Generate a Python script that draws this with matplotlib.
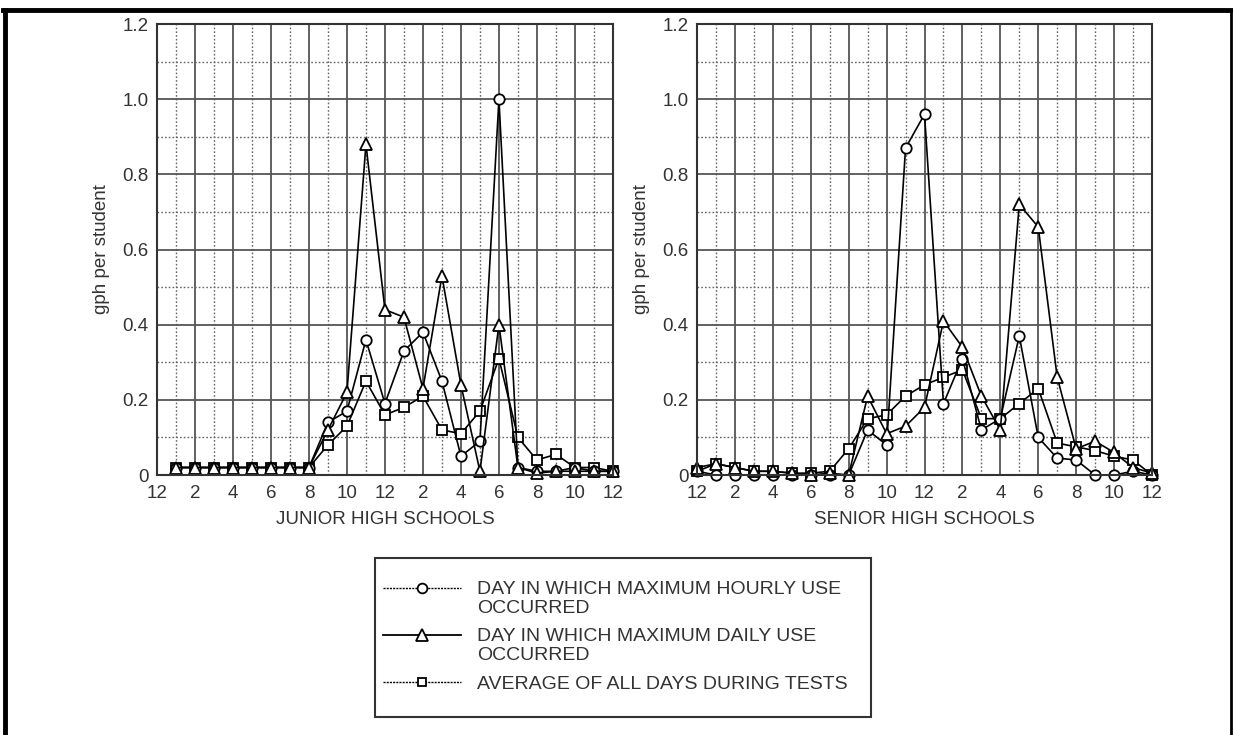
import matplotlib
matplotlib.use("Agg")
import matplotlib.pyplot as plt
from matplotlib.lines import Line2D
from matplotlib.legend_handler import HandlerLine2D

plt.rcParams['font.family'] = ['Liberation Sans', 'DejaVu Sans']

# hours of the day (0 = midnight, 24 = next midnight)
hours_jr = list(range(1, 25))
hours_sr = list(range(0, 25))
tick_labels = ["12", "2", "4", "6", "8", "10", "12", "2", "4", "6", "8", "10", "12"]

# junior high schools, gph per student
jr_max_hourly = [0.02, 0.02, 0.02, 0.02, 0.02, 0.02, 0.02, 0.02, 0.14, 0.17, 0.36, 0.19,
                 0.33, 0.38, 0.25, 0.05, 0.09, 1.00, 0.02, 0.01, 0.01, 0.02, 0.01, 0.01]
jr_max_daily = [0.02, 0.02, 0.02, 0.02, 0.02, 0.02, 0.02, 0.02, 0.12, 0.22, 0.88, 0.44,
                0.42, 0.23, 0.53, 0.24, 0.01, 0.40, 0.02, 0.005, 0.01, 0.01, 0.01, 0.01]
jr_average = [0.02, 0.02, 0.02, 0.02, 0.02, 0.02, 0.02, 0.02, 0.08, 0.13, 0.25, 0.16,
              0.18, 0.21, 0.12, 0.11, 0.17, 0.31, 0.10, 0.04, 0.055, 0.02, 0.02, 0.01]

# senior high schools, gph per student
sr_max_hourly = [0.01, 0.0, 0.0, 0.0, 0.0, 0.0, 0.0, 0.0, 0.0, 0.12, 0.08, 0.87, 0.96,
                 0.19, 0.31, 0.12, 0.15, 0.37, 0.10, 0.045, 0.04, 0.0, 0.0, 0.01, 0.0]
sr_max_daily = [0.02, 0.03, 0.02, 0.01, 0.01, 0.005, 0.0, 0.005, 0.0, 0.21, 0.11, 0.13, 0.18,
                0.41, 0.34, 0.21, 0.12, 0.72, 0.66, 0.26, 0.07, 0.09, 0.06, 0.02, 0.005]
sr_average = [0.01, 0.03, 0.02, 0.01, 0.01, 0.005, 0.005, 0.01, 0.07, 0.15, 0.16, 0.21, 0.24,
              0.26, 0.28, 0.15, 0.15, 0.19, 0.23, 0.085, 0.075, 0.065, 0.05, 0.04, 0.0]

labels = ["DAY IN WHICH MAXIMUM HOURLY USE\nOCCURRED",
          "DAY IN WHICH MAXIMUM DAILY USE\nOCCURRED",
          "AVERAGE OF ALL DAYS DURING TESTS"]

FS = 13.5

fig = plt.figure(figsize=(12.33, 7.35), dpi=100)
ax1 = fig.add_axes([0.1273, 0.3537, 0.3698, 0.6136])
ax2 = fig.add_axes([0.5653, 0.3537, 0.3690, 0.6136])

style = dict(color="black", lw=1.2, markerfacecolor="white", markeredgecolor="black",
             markeredgewidth=1.3, clip_on=False)


def draw_panel(ax, x, hourly, daily, avg, xlabel):
    ax.plot(x, avg, marker="s", markersize=6.5, **style)
    ax.plot(x, hourly, marker="o", markersize=7.5, **style)
    ax.plot(x, daily, marker="^", markersize=8, **style)
    ax.set_xlim(0, 24)
    ax.set_ylim(0, 1.2)
    ax.set_xticks(range(0, 25, 2))
    ax.set_xticklabels(tick_labels)
    ax.set_xticks(range(1, 25, 2), minor=True)
    ax.set_yticks([0, 0.2, 0.4, 0.6, 0.8, 1.0, 1.2])
    ax.set_yticklabels(["0", "0.2", "0.4", "0.6", "0.8", "1.0", "1.2"])
    ax.set_yticks([0.1, 0.3, 0.5, 0.7, 0.9, 1.1], minor=True)
    ax.grid(which="major", color="#555555", lw=1.3, ls="-")
    ax.grid(which="minor", color="#666666", lw=1.0, ls=(0, (1.2, 1.5)))
    ax.set_axisbelow(True)
    ax.tick_params(which="both", length=0, labelsize=FS, colors="#333333")
    ax.tick_params(axis="y", pad=6)
    ax.tick_params(axis="x", pad=7)
    for s in ax.spines.values():
        s.set_color("#333333")
        s.set_linewidth(1.5)
    ax.set_xlabel(xlabel, fontsize=FS, color="#333333", labelpad=7)
    ax.set_ylabel("gph per student", fontsize=FS, color="#333333", labelpad=9)


draw_panel(ax1, hours_jr, jr_max_hourly, jr_max_daily, jr_average, "JUNIOR HIGH SCHOOLS")
draw_panel(ax2, hours_sr, sr_max_hourly, sr_max_daily, sr_average, "SENIOR HIGH SCHOOLS")


# legend handle sits next to the first text line, a bit out to the left
class ShiftedHandler(HandlerLine2D):
    def __init__(self, dx, dy, **kw):
        super().__init__(**kw)
        self.dx = dx
        self.dy = dy

    def create_artists(self, legend, orig_handle, xdescent, ydescent, width, height, fontsize, trans):
        arts = super().create_artists(legend, orig_handle, xdescent, ydescent, width, height, fontsize, trans)
        for a in arts:
            a.set_xdata([v + self.dx for v in a.get_xdata()])
            a.set_ydata([v + self.dy for v in a.get_ydata()])
        return arts


handles = [
    Line2D([], [], color="black", lw=1.0, ls=(0, (1.5, 0.8)), marker="o", markersize=7,
           markerfacecolor="white", markeredgecolor="black", markeredgewidth=1.3),
    Line2D([], [], color="black", lw=1.3, ls="-", marker="^", markersize=8,
           markerfacecolor="white", markeredgecolor="black", markeredgewidth=1.3),
    Line2D([], [], color="black", lw=1.0, ls=(0, (1.5, 0.8)), marker="s", markersize=6,
           markerfacecolor="white", markeredgecolor="black", markeredgewidth=1.3),
]
LFS = 14
leg = fig.legend(handles, labels, loc="upper left", bbox_to_anchor=(0.304, 0.241),
                 borderaxespad=0, fontsize=LFS, handlelength=4.0, handletextpad=0.05,
                 labelspacing=0.6, borderpad=1.2, fancybox=False, frameon=True,
                 edgecolor="black",
                 handler_map={handles[0]: ShiftedHandler(-11, 7.5),
                              handles[1]: ShiftedHandler(-11, 7.5),
                              handles[2]: ShiftedHandler(-11, 0)})
leg.get_frame().set_linewidth(1.5)
for t in leg.get_texts():
    t.set_color("#333333")
    t.set_linespacing(1.12)

# outer border (top, left, right)
fig.add_artist(Line2D([0.004, 0.004], [0.0, 0.987], transform=fig.transFigure, color="black", lw=3.5))
fig.add_artist(Line2D([0.0025, 0.9985], [0.987, 0.987], transform=fig.transFigure, color="black", lw=3.5))
fig.add_artist(Line2D([0.9985, 0.9985], [0.0, 0.987], transform=fig.transFigure, color="black", lw=2))

fig.savefig("out.png", dpi=100)
